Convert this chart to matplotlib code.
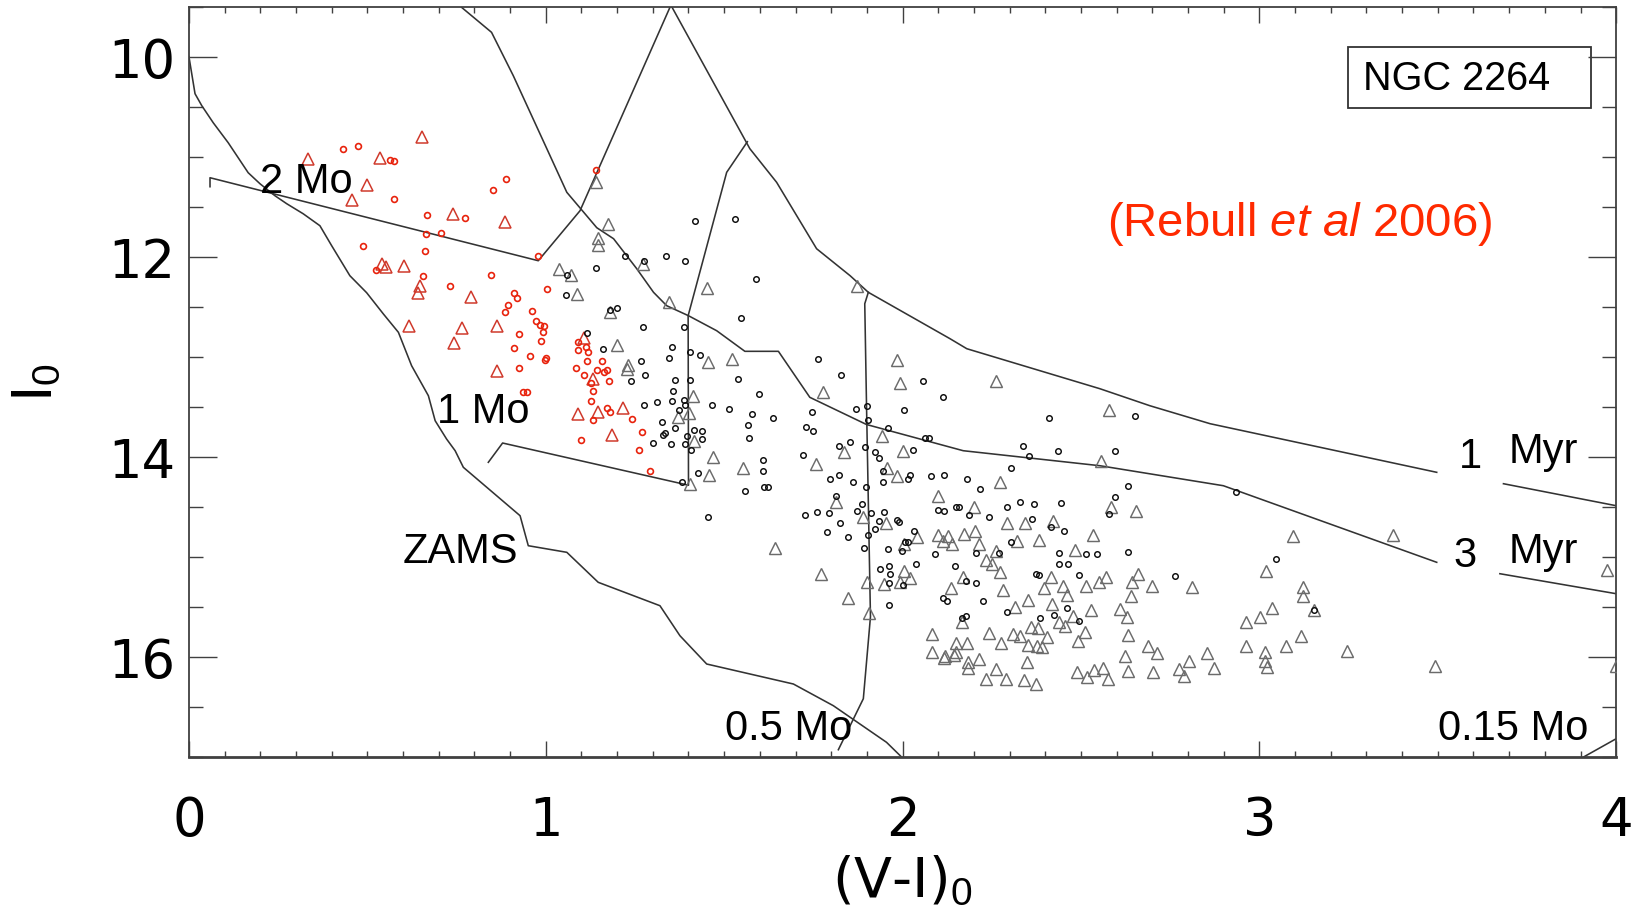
import numpy as np
import matplotlib.pyplot as plt
from matplotlib.patches import Rectangle
from matplotlib.ticker import MultipleLocator

plt.rcParams['font.family'] = ['Liberation Sans', 'DejaVu Sans']
plt.rcParams['mathtext.fontset'] = 'custom'
plt.rcParams['mathtext.rm'] = 'Liberation Sans'
plt.rcParams['mathtext.it'] = 'Liberation Sans:italic'

# ---- tracks and isochrones, (V-I)0 and I0 ----
zams_vi = [0.0, 0.017, 0.036, 0.068, 0.11, 0.166, 0.199, 0.241, 0.274, 0.32, 0.367, 0.40,
           0.451, 0.498, 0.545, 0.587, 0.624, 0.671, 0.690, 0.722, 0.746, 0.769, 0.928,
           0.951, 1.059, 1.147, 1.32, 1.376, 1.451, 1.694, 1.806, 1.955, 2.002]
zams_i = [10.0, 10.37, 10.49, 10.66, 10.86, 11.16, 11.27, 11.39, 11.47, 11.57, 11.69, 11.89,
          12.19, 12.36, 12.573, 12.756, 13.09, 13.39, 13.64, 13.823, 13.94, 14.106, 14.59,
          14.89, 14.956, 15.256, 15.49, 15.79, 16.073, 16.273, 16.49, 16.856, 17.02]

m2_vi = [0.059, 0.059, 0.979, 1.096, 1.348]
m2_i = [11.30, 11.21, 12.04, 11.54, 9.506]

m1_vi = [0.839, 0.879, 1.400, 1.399, 1.507, 1.565]
m1_i = [14.056, 13.863, 14.285, 12.59, 11.156, 10.85]

m05_vi = [1.904, 1.894, 1.899, 1.910, 1.890, 1.820]
m05_i = [12.356, 12.47, 13.5, 15.6, 16.42, 16.93]

m015_vi = [3.91, 4.0]
m015_i = [17.0, 16.82]

iso1_vi = [1.354, 1.572, 1.647, 1.759, 1.853, 1.904, 2.133, 2.18, 2.553, 2.693, 2.862,
           3.497, np.nan, 3.684, 4.0]
iso1_i = [9.506, 10.92, 11.256, 11.92, 12.19, 12.356, 12.82, 12.92, 13.32, 13.49, 13.67,
          14.156, np.nan, 14.27, 14.49]

iso3_vi = [0.764, 0.848, 0.909, 1.003, 1.059, 1.143, 1.19, 1.255, 1.302, 1.339, 1.40,
           1.479, 1.558, 1.652, 1.74, 1.899, 2.17, 2.553, 2.899, 3.497, np.nan, 3.674, 4.0]
iso3_i = [9.506, 9.756, 10.19, 10.92, 11.356, 11.71, 11.82, 12.12, 12.356, 12.49, 12.59,
          12.74, 12.946, 12.946, 13.406, 13.678, 13.94, 14.09, 14.29, 15.056, np.nan, 15.17, 15.37]

# ---- stars: (V-I)0, I0 ----
red_circles = np.array([
    [0.432, 10.927], [0.473, 10.893], [0.564, 11.033], [0.575, 11.04], [0.889, 11.22],
    [0.851, 11.33], [0.575, 11.42], [0.668, 11.583], [0.775, 11.613], [0.664, 11.777],
    [0.707, 11.767], [0.488, 11.89], [0.662, 11.947], [0.978, 11.99], [0.524, 12.13],
    [0.657, 12.197], [0.847, 12.18], [0.732, 12.29], [1.004, 12.323], [0.912, 12.363],
    [0.918, 12.417], [0.894, 12.487], [0.886, 12.557], [0.962, 12.54],
    [0.973, 12.646], [0.984, 12.68], [0.996, 12.696], [0.991, 12.756], [0.926, 12.77],
    [0.986, 12.846], [0.912, 12.916], [0.957, 12.996], [1.0, 13.016], [0.998, 13.03],
    [0.926, 13.116], [0.935, 13.356], [0.948, 13.356],
    [1.141, 11.133], [1.091, 12.85], [1.113, 12.9], [1.091, 12.933], [1.119, 12.956],
    [1.116, 13.04], [1.157, 13.04], [1.085, 13.116], [1.143, 13.133], [1.164, 13.15],
    [1.173, 13.133], [1.107, 13.18], [1.178, 13.246], [1.128, 13.266], [1.131, 13.346],
    [1.126, 13.446], [1.173, 13.513], [1.18, 13.556], [1.131, 13.63], [1.243, 13.623],
    [1.269, 13.756], [1.098, 13.833], [1.262, 13.93], [1.292, 14.14]])

red_triangles = np.array([
    [0.654, 10.807], [0.333, 11.023], [0.536, 11.017], [0.498, 11.28], [0.458, 11.433],
    [0.739, 11.573], [0.886, 11.657], [0.540, 12.073], [0.551, 12.107], [0.603, 12.09],
    [0.648, 12.29], [0.643, 12.363], [0.790, 12.40],
    [0.616, 12.696], [0.766, 12.71], [0.864, 12.69], [0.743, 12.866], [0.862, 13.146],
    [1.108, 12.816], [1.131, 13.223], [1.091, 13.573], [1.145, 13.55], [1.217, 13.516],
    [1.187, 13.78]])

gray_triangles = np.array([
    [1.141, 11.256], [1.175, 11.673], [1.147, 11.816], [1.147, 11.883], [1.038, 12.123],
    [1.070, 12.183], [1.088, 12.373], [1.273, 12.073], [1.18, 12.556], [1.345, 12.45],
    [1.451, 12.316], [1.871, 12.29], [1.199, 12.883], [1.231, 13.083], [1.227, 13.123],
    [1.456, 13.05], [1.521, 13.023], [1.413, 13.39], [1.402, 13.563], [1.371, 13.606],
    [1.416, 13.84], [1.469, 14.006], [1.458, 14.183], [1.552, 14.113], [1.404, 14.273],
    [1.776, 13.356], [1.757, 14.073], [1.836, 13.95], [1.983, 13.033], [1.993, 13.266],
    [1.943, 13.796], [2.002, 13.94], [1.957, 14.116], [1.983, 14.19], [2.100, 14.39],
    [1.642, 14.916],
    [2.262, 13.246], [2.579, 13.53], [2.556, 14.04], [2.273, 14.25], [2.201, 14.5],
    [2.583, 14.506], [2.654, 14.54], [2.292, 14.666], [2.343, 14.663], [2.421, 14.64],
    [2.533, 14.783], [2.203, 14.746], [2.172, 14.773], [2.098, 14.78], [2.128, 14.79],
    [2.114, 14.84], [2.138, 14.873], [2.04, 14.806], [2.214, 14.873], [2.32, 14.84],
    [2.383, 14.833], [2.483, 14.933], [2.262, 14.94], [2.233, 15.03], [2.251, 15.073],
    [2.273, 15.15], [2.659, 15.173], [2.570, 15.206], [2.551, 15.25], [2.642, 15.256],
    [2.698, 15.296], [2.81, 15.306], [2.640, 15.39], [2.513, 15.296], [2.450, 15.296],
    [2.462, 15.383], [2.416, 15.2], [2.396, 15.313], [2.282, 15.33], [2.352, 15.43],
    [2.419, 15.473], [2.315, 15.506], [2.136, 15.316], [2.170, 15.206], [2.004, 15.14],
    [2.021, 15.216], [1.993, 15.25], [1.947, 15.273], [1.9, 15.256], [1.770, 15.173],
    [1.846, 15.416], [1.906, 15.566], [2.166, 15.65], [2.479, 15.59], [2.527, 15.533],
    [2.609, 15.523], [2.628, 15.606], [2.437, 15.656], [2.455, 15.696], [2.360, 15.706],
    [2.380, 15.716], [2.511, 15.75], [2.493, 15.846], [2.404, 15.8], [2.243, 15.763],
    [2.310, 15.773], [2.329, 15.79], [2.275, 15.863], [2.352, 15.883], [2.376, 15.89],
    [2.390, 15.906], [2.633, 15.783], [2.083, 15.773], [2.151, 15.863], [2.180, 15.863],
    [2.151, 15.95], [2.083, 15.95], [2.119, 15.99], [2.116, 16.016], [2.144, 15.983],
    [2.214, 16.023], [2.182, 16.056], [2.184, 16.113], [2.263, 16.123], [2.233, 16.223],
    [2.290, 16.223], [2.339, 16.233], [2.374, 16.273], [2.350, 16.056], [2.488, 16.15],
    [2.518, 16.206], [2.537, 16.13], [2.563, 16.113], [2.575, 16.223], [2.624, 15.99],
    [2.633, 16.14], [2.689, 15.89], [2.714, 15.963], [2.701, 16.15], [2.776, 16.123],
    [2.790, 16.196], [2.804, 16.04], [2.853, 15.963], [2.874, 16.113], [2.962, 15.65],
    [2.962, 15.89], [1.813, 14.45], [1.888, 14.606], [1.954, 14.663], [2.004, 14.873],
    [3.093, 14.79], [3.375, 14.783], [3.018, 15.146], [3.123, 15.306], [3.123, 15.396],
    [3.034, 15.513], [3.003, 15.606], [3.153, 15.53], [3.016, 15.956], [3.016, 16.04],
    [3.022, 16.106], [3.074, 15.89], [3.116, 15.79], [3.245, 15.946], [3.492, 16.09],
    [3.975, 15.13], [4.0, 16.09]])

black_circles = np.array([
    [1.418, 11.643], [1.531, 11.626], [1.222, 11.996], [1.274, 12.046], [1.337, 11.99],
    [1.389, 12.046], [1.141, 12.113], [1.060, 12.183], [1.058, 12.38], [1.588, 12.223],
    [1.18, 12.533], [1.201, 12.513], [1.546, 12.613], [1.272, 12.7], [1.388, 12.7],
    [1.115, 12.766], [1.161, 12.923], [1.354, 12.9], [1.344, 13.016], [1.404, 12.956],
    [1.431, 12.983], [1.267, 13.046], [1.278, 13.18], [1.239, 13.246], [1.540, 13.223],
    [1.361, 13.23], [1.403, 13.23], [1.356, 13.346], [1.598, 13.373], [1.388, 13.43],
    [1.389, 13.483], [1.353, 13.446], [1.311, 13.456], [1.275, 13.483], [1.372, 13.53],
    [1.467, 13.48], [1.514, 13.523], [1.579, 13.573], [1.636, 13.613], [1.326, 13.65],
    [1.361, 13.716], [1.416, 13.73], [1.439, 13.746], [1.328, 13.78], [1.333, 13.763],
    [1.395, 13.796], [1.437, 13.823], [1.390, 13.873], [1.351, 13.876], [1.301, 13.863],
    [1.407, 13.93], [1.566, 13.68], [1.570, 13.816], [1.610, 14.033], [1.608, 14.14],
    [1.613, 14.3], [1.622, 14.306], [1.559, 14.34], [1.428, 14.163], [1.381, 14.25],
    [1.745, 13.556], [1.729, 13.7], [1.750, 13.74], [1.722, 13.98], [1.762, 13.023],
    [1.828, 13.18], [1.870, 13.523], [1.900, 13.49], [1.904, 13.633], [1.958, 13.716],
    [1.853, 13.856], [1.823, 13.89], [1.895, 13.906], [1.923, 13.95], [1.934, 14.016],
    [2.028, 13.933], [2.058, 13.246], [2.112, 13.406], [2.005, 13.533], [2.063, 13.813],
    [2.075, 13.813], [1.821, 14.183], [1.860, 14.256], [1.797, 14.223], [1.898, 14.3],
    [1.946, 14.25], [1.946, 14.14], [2.016, 14.223], [2.021, 14.183], [2.081, 14.196],
    [2.116, 14.183], [1.812, 14.39], [1.456, 14.604],
    [2.410, 13.61], [2.651, 13.593], [2.338, 13.893], [2.353, 13.993], [2.435, 13.943],
    [2.596, 13.943], [2.305, 14.116], [2.633, 14.293], [2.596, 14.403], [2.579, 14.576],
    [2.217, 14.326], [2.180, 14.223], [2.330, 14.456], [2.367, 14.473], [2.292, 14.503],
    [2.443, 14.463], [2.242, 14.606], [2.362, 14.623], [2.415, 14.706], [2.452, 14.746],
    [2.185, 14.58], [2.150, 14.503], [2.157, 14.5], [2.098, 14.533], [2.117, 14.54],
    [1.983, 14.633], [1.990, 14.656], [1.949, 14.55], [1.935, 14.64], [1.922, 14.723],
    [1.903, 14.783], [1.848, 14.806], [1.789, 14.753], [1.826, 14.66], [1.795, 14.563],
    [1.761, 14.55], [1.726, 14.58], [1.873, 14.543], [1.911, 14.563], [1.885, 14.473],
    [2.032, 14.746], [2.016, 14.849], [2.007, 14.849], [1.998, 14.946], [2.037, 15.073],
    [1.958, 14.923], [1.893, 14.916], [1.936, 15.123], [1.962, 15.09], [1.965, 15.173],
    [1.962, 15.266], [1.962, 15.483], [2.002, 15.28], [2.090, 14.97], [2.205, 14.963],
    [2.270, 14.966], [2.303, 14.856], [2.437, 14.966], [2.513, 14.976], [2.544, 14.976],
    [2.633, 14.956], [2.437, 15.073], [2.465, 15.073], [2.495, 15.183], [2.373, 15.173],
    [2.383, 15.18], [2.763, 15.196], [2.177, 15.24], [2.205, 15.263], [2.148, 15.093],
    [2.224, 15.44], [2.112, 15.416], [2.124, 15.443], [2.293, 15.55], [2.462, 15.513],
    [2.424, 15.58], [2.385, 15.616], [2.495, 15.646], [2.177, 15.593], [2.166, 15.616],
    [2.935, 14.356], [3.047, 15.023], [3.153, 15.53]])

fig = plt.figure(figsize=(16.36, 9.2), dpi=100)
ax = fig.add_axes([0.1155, 0.1764, 0.8724, 0.8152])

lk = dict(color='0.2', lw=1.15, zorder=2)
ax.plot(zams_vi, zams_i, **lk)
ax.plot(m2_vi, m2_i, **lk)
ax.plot(m1_vi, m1_i, **lk)
ax.plot(m05_vi, m05_i, **lk)
ax.plot(m015_vi, m015_i, **lk)
ax.plot(iso1_vi, iso1_i, **lk)
ax.plot(iso3_vi, iso3_i, **lk)

ax.plot(gray_triangles[:, 0], gray_triangles[:, 1], '^', ls='none', ms=9,
        mfc='none', mec='0.42', mew=1.05, zorder=3)
ax.plot(black_circles[:, 0], black_circles[:, 1], 'o', ls='none', ms=4,
        mfc='none', mec='0.05', mew=1.05, zorder=4)
ax.plot(red_triangles[:, 0], red_triangles[:, 1], '^', ls='none', ms=9,
        mfc='none', mec='#d03a2c', mew=1.1, zorder=3)
ax.plot(red_circles[:, 0], red_circles[:, 1], 'o', ls='none', ms=4.2,
        mfc='none', mec='#e8220c', mew=1.2, zorder=4)

tk = dict(fontsize=30, va='baseline', color='black', zorder=5)
ax.text(0.199, 11.356, '2 Mo', **tk)
ax.text(0.695, 13.65, '1 Mo', **tk)
ax.text(0.599, 15.056, 'ZAMS', **tk)
ax.text(1.502, 16.823, '0.5 Mo', **tk)
ax.text(3.501, 16.823, '0.15 Mo', **tk)
ax.text(3.56, 14.106, '1', **tk)
ax.text(3.698, 14.056, 'Myr', **tk)
ax.text(3.545, 15.09, '3', **tk)
ax.text(3.698, 15.056, 'Myr', **tk)

ax.text(3.289, 10.323, 'NGC 2264', fontsize=28.5, va='baseline')
ax.add_patch(Rectangle((0.812, 0.865), 0.1705, 0.081, transform=ax.transAxes,
                       fill=False, lw=1.3, ec='0.2'))
ax.text(2.572, 11.783, r'(Rebull $\mathit{et\ al}$ 2006)', color='#ff2a00',
        fontsize=34, va='baseline')

ax.set_xlim(0, 4)
ax.set_ylim(17, 9.5)
ax.xaxis.set_major_locator(MultipleLocator(1))
ax.xaxis.set_minor_locator(MultipleLocator(0.1))
ax.yaxis.set_major_locator(MultipleLocator(2))
ax.yaxis.set_minor_locator(MultipleLocator(0.5))
ax.tick_params(which='both', direction='in', top=True, right=True, width=1.0, color='0.25')
ax.tick_params(axis='x', which='major', length=11.5, pad=27, labelsize=38)
ax.tick_params(axis='x', which='minor', length=4.5)
ax.tick_params(axis='y', which='major', length=20, pad=10, labelsize=38)
ax.tick_params(axis='y', which='minor', length=10)
for lbl in ax.get_xticklabels() + ax.get_yticklabels():
    lbl.set_family('DejaVu Sans')
for sp in ax.spines.values():
    sp.set_linewidth(1.3)
    sp.set_color('0.25')
ax.spines['bottom'].set_linewidth(2.0)

ax.set_xlabel(r'(V-I)$_0$', fontsize=40, family='DejaVu Sans')
ax.xaxis.set_label_coords(0.5, -0.13)
ax.set_ylabel(r'I$_0$', fontsize=40, family='DejaVu Sans')
ax.yaxis.set_label_coords(-0.087, 0.5)

fig.savefig('out.png', dpi=100)
